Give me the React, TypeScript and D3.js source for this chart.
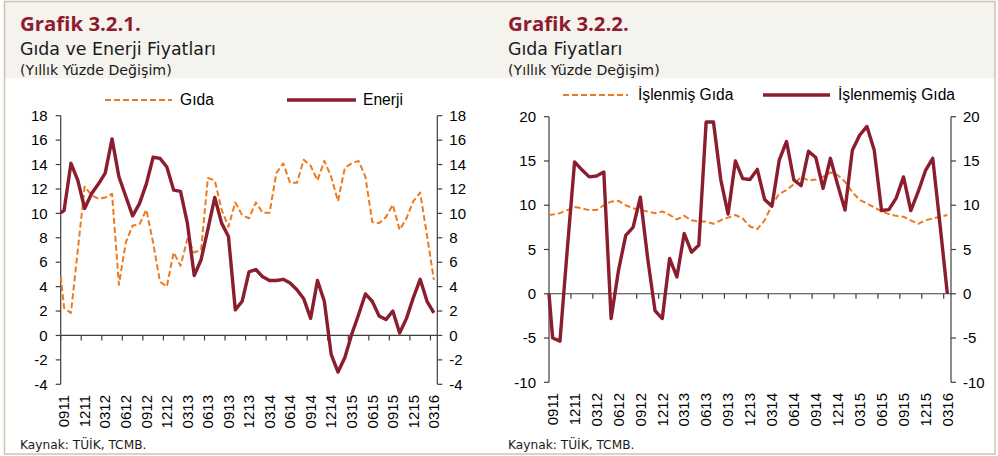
import React from "react";
import * as d3 from "d3";

const W = 998;
const H = 456;

// ---- categories (monthly, MMYY) ----
const startYear = 2011;
const startMonth = 9;
const monthCount = 55;
const categories: string[] = Array.from({ length: monthCount }, (_, k) => {
  const m = ((startMonth - 1 + k) % 12) + 1;
  const y = startYear + Math.floor((startMonth - 1 + k) / 12);
  return String(m).padStart(2, "0") + String(y % 100).padStart(2, "0");
});

const xTickLabels = [
  "0911", "1211", "0312", "0612", "0912", "1212", "0313", "0613", "0913", "1213",
  "0314", "0614", "0914", "1214", "0315", "0615", "0915", "1215", "0316",
];

// ---- Grafik 3.2.1 ----
const gidaLead = 4.85;
const gida = [
  2.25, 1.85, 7.0, 12.2, 11.5, 11.2, 11.3, 11.6, 4.15, 7.6,
  9.0, 9.1, 10.3, 7.6, 4.4, 4.0, 6.8, 5.7, 7.9, 6.8,
  7.0, 12.9, 12.7, 10.3, 8.9, 10.9, 9.85, 9.6, 10.9, 10.05,
  10.05, 13.3, 14.1, 12.5, 12.5, 14.4, 13.9, 12.7, 14.3, 13.0,
  11.0, 13.75, 14.1, 14.3, 13.0, 9.3, 9.2, 9.7, 10.7, 8.65,
  9.6, 11.0, 11.7, 8.2, 4.55,
];
const enerjiLead = 10.05;
const enerji = [
  10.25, 14.1, 12.7, 10.4, 11.6, 12.4, 13.3, 16.1, 13.0, 11.4,
  9.8, 10.8, 12.4, 14.6, 14.5, 13.8, 11.9, 11.8, 9.2, 4.9,
  6.2, 8.7, 11.3, 9.2, 8.1, 2.1, 2.8, 5.2, 5.4, 4.8,
  4.5, 4.5, 4.6, 4.3, 3.75, 3.0, 1.4, 4.5, 2.8, -1.55,
  -3.0, -1.8, 0.1, 1.7, 3.4, 2.8, 1.6, 1.3, 2.0, 0.2,
  1.4, 3.1, 4.6, 2.8, 1.85,
];
const leftTicks = [18, 16, 14, 12, 10, 8, 6, 4, 2, 0, -2, -4];

// ---- Grafik 3.2.2 ----
const islenmisLead = 8.9;
const islenmis = [
  8.95, 9.1, 9.45, 9.8, 9.65, 9.45, 9.45, 10.0, 10.4, 10.5,
  10.0, 9.65, 9.45, 9.3, 9.1, 9.3, 8.9, 8.4, 8.8, 8.3,
  8.15, 8.15, 7.9, 8.3, 8.6, 8.9, 8.5, 7.6, 7.3, 8.3,
  10.0, 11.3, 11.7, 12.4, 13.2, 12.8, 12.9, 13.2, 13.7, 13.4,
  12.65, 11.5, 10.6, 10.2, 9.75, 9.3, 9.0, 8.8, 8.7, 8.3,
  7.9, 8.3, 8.5, 8.7, 8.9,
];
const islenmemisLead = 0;
const islenmemis = [
  -5.0, -5.35, 5.0, 14.9, 14.0, 13.2, 13.3, 13.75, -2.8, 2.6,
  6.6, 7.5, 10.9, 4.0, -1.9, -2.8, 4.0, 1.9, 6.8, 4.7,
  5.5, 19.4, 19.4, 12.9, 9.0, 15.0, 13.0, 12.9, 14.05, 10.65,
  9.9, 15.1, 17.2, 12.85, 12.2, 16.1, 15.4, 11.9, 15.3, 12.3,
  9.45, 16.2, 17.9, 18.9, 16.2, 9.4, 9.5, 10.8, 13.2, 9.4,
  11.5, 13.9, 15.3, 7.8, 0,
];
const rightTicks = [20, 15, 10, 5, 0, -5, -10];

const MAROON = "#8B1D2F";
const ORANGE = "#EC7A1E";
const TITLE_RED = "#8E1B2E";
const AXIS = "#3f3f3f";
const AXIS_FONT = "'Liberation Sans', Arial, sans-serif";
const DASH = "6 3";

type Series = { name: string; values: number[]; lead: number; color: string; dashed: boolean; width: number };

type PanelProps = {
  hx: number;
  title: string;
  subtitle: string;
  x0: number;
  x1: number;
  yTopPx: number;
  yBotPx: number;
  ticks: number[];
  series: Series[];
  legend: { x1: number; x2: number; tx: number; y: number }[];
  labelTop: number;
};

function Panel(p: PanelProps) {
  const x = d3.scaleLinear().domain([-0.5, monthCount - 0.5]).range([p.x0, p.x1]);
  const y = d3
    .scaleLinear()
    .domain([d3.max(p.ticks) as number, d3.min(p.ticks) as number])
    .range([p.yTopPx, p.yBotPx]);
  const line = d3
    .line<{ i: number; v: number }>()
    .x((d) => x(d.i))
    .y((d) => y(d.v));
  const boundaryTicks = d3.range(0, monthCount, 3).map((k) => k - 0.5);
  const y0 = y(0);
  return (
    <g>
      <text x={p.hx} y={31} fontFamily="'Open Sans', sans-serif" fontWeight={700} fontSize={20.4} fill={TITLE_RED}>
        {p.title}
      </text>
      <text x={p.hx} y={55} fontFamily="'DejaVu Sans', sans-serif" fontSize={17.4} fill="#1a1a1a">
        {p.subtitle}
      </text>
      <text x={p.hx} y={74.5} fontFamily="'DejaVu Sans', sans-serif" fontSize={14.2} fill="#1a1a1a">
        (Yıllık Yüzde Değişim)
      </text>
      <text x={p.hx} y={449} fontFamily="'DejaVu Sans', sans-serif" fontSize={12.2} fill="#1a1a1a">
        Kaynak: TÜİK, TCMB.
      </text>

      {/* legend */}
      {p.series.map((s, k) => (
        <g key={"lg" + k}>
          <line
            x1={p.legend[k].x1}
            x2={p.legend[k].x2}
            y1={p.legend[k].y}
            y2={p.legend[k].y}
            stroke={s.color}
            strokeWidth={s.width}
            strokeDasharray={s.dashed ? DASH : undefined}
          />
          <text x={p.legend[k].tx} y={p.legend[k].y} dy="0.35em" fontFamily={AXIS_FONT} fontSize={15.6} fill="#000">
            {s.name}
          </text>
        </g>
      ))}

      {/* axes */}
      <line x1={p.x0} x2={p.x0} y1={p.yTopPx} y2={p.yBotPx} stroke={AXIS} strokeWidth={1.2} />
      <line x1={p.x1} x2={p.x1} y1={p.yTopPx} y2={p.yBotPx} stroke={AXIS} strokeWidth={1.2} />
      {p.ticks.map((t) => (
        <g key={"yt" + t}>
          <line x1={p.x0 - 5} x2={p.x0} y1={y(t)} y2={y(t)} stroke={AXIS} strokeWidth={1.2} />
          <line x1={p.x1} x2={p.x1 + 5} y1={y(t)} y2={y(t)} stroke={AXIS} strokeWidth={1.2} />
          <text x={p.x0 - 13} y={y(t)} dy="0.35em" textAnchor="end" fontFamily={AXIS_FONT} fontSize={15} fill="#000">
            {t}
          </text>
          <text x={p.x1 + 12} y={y(t)} dy="0.35em" textAnchor="start" fontFamily={AXIS_FONT} fontSize={15} fill="#000">
            {t}
          </text>
        </g>
      ))}
      <line x1={p.x0} x2={p.x1} y1={y0} y2={y0} stroke={AXIS} strokeWidth={1.2} />
      {boundaryTicks.map((b) => (
        <line key={"xt" + b} x1={x(b)} x2={x(b)} y1={y0} y2={y0 + 5} stroke={AXIS} strokeWidth={1.2} />
      ))}
      {xTickLabels.map((lab) => {
        const i = categories.indexOf(lab);
        return (
          <text
            key={"xl" + lab}
            transform={`translate(${x(i)},${p.labelTop}) rotate(-90)`}
            dy="0.35em"
            textAnchor="end"
            fontFamily={AXIS_FONT}
            fontSize={15}
            fill="#000"
          >
            {lab}
          </text>
        );
      })}

      {/* series */}
      {p.series.map((s, k) => {
        const pts = [{ i: -0.5, v: s.lead }, ...s.values.map((v, i) => ({ i, v }))];
        return (
          <path
            key={"s" + k}
            d={line(pts) || ""}
            fill="none"
            stroke={s.color}
            strokeWidth={s.width}
            strokeLinejoin="round"
            strokeDasharray={s.dashed ? DASH : undefined}
          />
        );
      })}
    </g>
  );
}

export default function App() {
  const left: Series[] = [
    { name: "Gıda", values: gida, lead: gidaLead, color: ORANGE, dashed: true, width: 2 },
    { name: "Enerji", values: enerji, lead: enerjiLead, color: MAROON, dashed: false, width: 3.4 },
  ];
  const right: Series[] = [
    { name: "İşlenmiş Gıda", values: islenmis, lead: islenmisLead, color: ORANGE, dashed: true, width: 2 },
    { name: "İşlenmemiş Gıda", values: islenmemis, lead: islenmemisLead, color: MAROON, dashed: false, width: 3.4 },
  ];
  return (
    <div style={{ position: "absolute", left: 0, top: 0 }}>
      <svg width={W} height={H} viewBox={`0 0 ${W} ${H}`} style={{ display: "block", background: "#fff" }}>
        <rect x={0} y={0} width={W} height={H} fill="#fff" />
        <rect x={4.5} y={1.5} width={990.5} height={77} fill="#F5F3EE" />
        <rect x={4.5} y={1.5} width={990.5} height={452.5} fill="none" stroke="#CFC4AF" strokeWidth={1.5} />
        <Panel
          hx={20}
          title="Grafik 3.2.1."
          subtitle="Gıda ve Enerji Fiyatları"
          x0={60.7}
          x1={437.3}
          yTopPx={115.7}
          yBotPx={384.3}
          ticks={leftTicks}
          series={left}
          legend={[
            { x1: 105, x2: 172, tx: 180, y: 100 },
            { x1: 287, x2: 356, tx: 363, y: 100 },
          ]}
          labelTop={395}
        />
        <Panel
          hx={508}
          title="Grafik 3.2.2."
          subtitle="Gıda Fiyatları"
          x0={549}
          x1={951}
          yTopPx={116.7}
          yBotPx={382.3}
          ticks={rightTicks}
          series={right}
          legend={[
            { x1: 563, x2: 628, tx: 638, y: 95 },
            { x1: 763, x2: 830, tx: 838, y: 95 },
          ]}
          labelTop={393}
        />
      </svg>
    </div>
  );
}
